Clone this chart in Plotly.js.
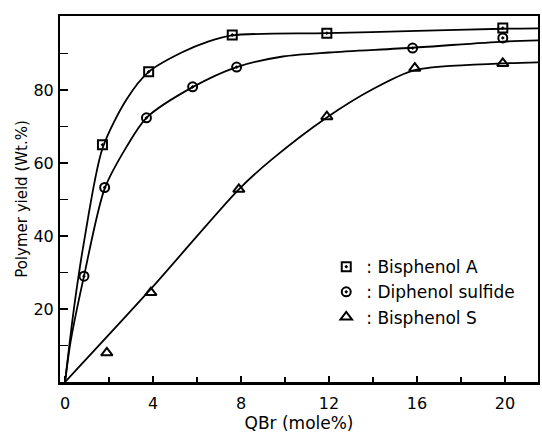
<!DOCTYPE html>
<html>
<head>
<meta charset="utf-8">
<script src="https://cdn.plot.ly/plotly-3.0.1.min.js"></script>
<style>html,body{margin:0;padding:0;background:#fff;}#chart{width:542px;height:435px;}</style>
</head>
<body>
<div id="chart"></div>
<script>
const seriesNames = [": Bisphenol A", ": Diphenol sulfide", ": Bisphenol S"];
const bpaX = [1.7, 3.8, 7.6, 11.9, 19.9];
const bpaY = [65.0, 85.0, 95.1, 95.6, 97.0];
const dpsX = [0.86, 1.8, 3.7, 5.8, 7.8, 15.8, 19.9];
const dpsY = [29.0, 53.3, 72.4, 80.9, 86.3, 91.5, 94.3];
const bpsX = [1.9, 3.9, 7.9, 11.9, 15.9, 19.9];
const bpsY = [8.0, 24.5, 52.8, 72.7, 86.0, 87.3];

// Drawn curves (knots)
const bpaCurveX = [0, 0.4, 0.85, 1.7, 2.8, 3.8, 5.3, 6.5, 7.6, 11.9, 16, 19.9, 21.5];
const bpaCurveY = [0, 20, 38, 64, 77.5, 85, 90.3, 93.3, 95.0, 95.6, 96.2, 96.8, 96.9];
const dpsCurveX = [0, 0.25, 0.86, 1.8, 2.8, 3.7, 5.8, 7.8, 9.9, 12, 15.8, 19.9, 21.5];
const dpsCurveY = [0, 11, 29, 53, 64.5, 72.4, 80.8, 86.3, 89.2, 90.3, 91.6, 93.3, 93.6];
const bpsCurveX = [0, 3.9, 7.9, 9.4, 11.9, 14, 15.9, 19.9, 21.5];
const bpsCurveY = [0, 25.5, 52.8, 61, 72.5, 80.3, 85.5, 87.3, 87.6];

const xTickVals = [0, 4, 8, 12, 16, 20];
const xMinorVals = [2, 6, 10, 14, 18];
const yTickVals = [20, 40, 60, 80];
const yMinorVals = [10, 30, 50, 70, 90];

const font = "DejaVu Sans, sans-serif";
const lineStyle = {color: "#000", width: 1.8, shape: "spline", smoothing: 0.8};

const traces = [
  {x: bpaCurveX, y: bpaCurveY, mode: "lines", line: lineStyle, showlegend: false, hoverinfo: "skip"},
  {x: dpsCurveX, y: dpsCurveY, mode: "lines", line: lineStyle, showlegend: false, hoverinfo: "skip"},
  {x: bpsCurveX, y: bpsCurveY, mode: "lines", line: lineStyle, showlegend: false, hoverinfo: "skip"},
  {x: bpaX, y: bpaY, mode: "markers", name: seriesNames[0],
   marker: {symbol: "square-open-dot", size: 9, color: "#000", line: {color: "#000", width: 2}}},
  {x: dpsX, y: dpsY, mode: "markers", name: seriesNames[1],
   marker: {symbol: "circle-open-dot", size: 9, color: "#000", line: {color: "#000", width: 2}}},
  {x: bpsX, y: bpsY, mode: "markers", name: seriesNames[2],
   marker: {symbol: "triangle-up-open", size: 10, color: "#000", line: {color: "#000", width: 2}}}
];

const layout = {
  width: 542, height: 435,
  margin: {l: 60, r: 4, t: 16, b: 53},
  paper_bgcolor: "#fff", plot_bgcolor: "#fff",
  font: {family: font, color: "#000", size: 16},
  showlegend: true,
  legend: {x: 0.557, xanchor: "left", y: 0.363, yanchor: "top",
           font: {family: font, size: 17, color: "#000"},
           bgcolor: "rgba(0,0,0,0)", traceorder: "normal", itemwidth: 30},
  xaxis: {
    range: [-0.23, 21.5], showgrid: false, zeroline: false,
    showline: true, linecolor: "#000", linewidth: 2.5, mirror: true,
    tickmode: "array", tickvals: xTickVals, ticktext: xTickVals.map(String),
    ticks: "inside", ticklen: 6, tickwidth: 1.5, tickcolor: "#000",
    minor: {tickmode: "array", tickvals: xMinorVals, ticks: "inside", ticklen: 5, tickwidth: 1.5, tickcolor: "#000"},
    tickfont: {family: font, size: 16}, ticklabelstandoff: 5,
    title: {text: "QBr (mole%)", font: {family: font, size: 17}, standoff: 6}
  },
  yaxis: {
    range: [0, 100.3], showgrid: false, zeroline: false,
    showline: true, linecolor: "#000", linewidth: 2, mirror: true,
    tickmode: "array", tickvals: yTickVals, ticktext: yTickVals.map(String),
    ticks: "inside", ticklen: 8, tickwidth: 1.5, tickcolor: "#000",
    minor: {tickmode: "array", tickvals: yMinorVals, ticks: "inside", ticklen: 8, tickwidth: 1.5, tickcolor: "#000"},
    tickfont: {family: font, size: 16}, ticklabelstandoff: 1,
    title: {text: "Polymer yield (Wt.%)", font: {family: font, size: 15}, standoff: 2}
  }
};

Plotly.newPlot("chart", traces, layout, {displayModeBar: false, staticPlot: true});
</script>
</body>
</html>
